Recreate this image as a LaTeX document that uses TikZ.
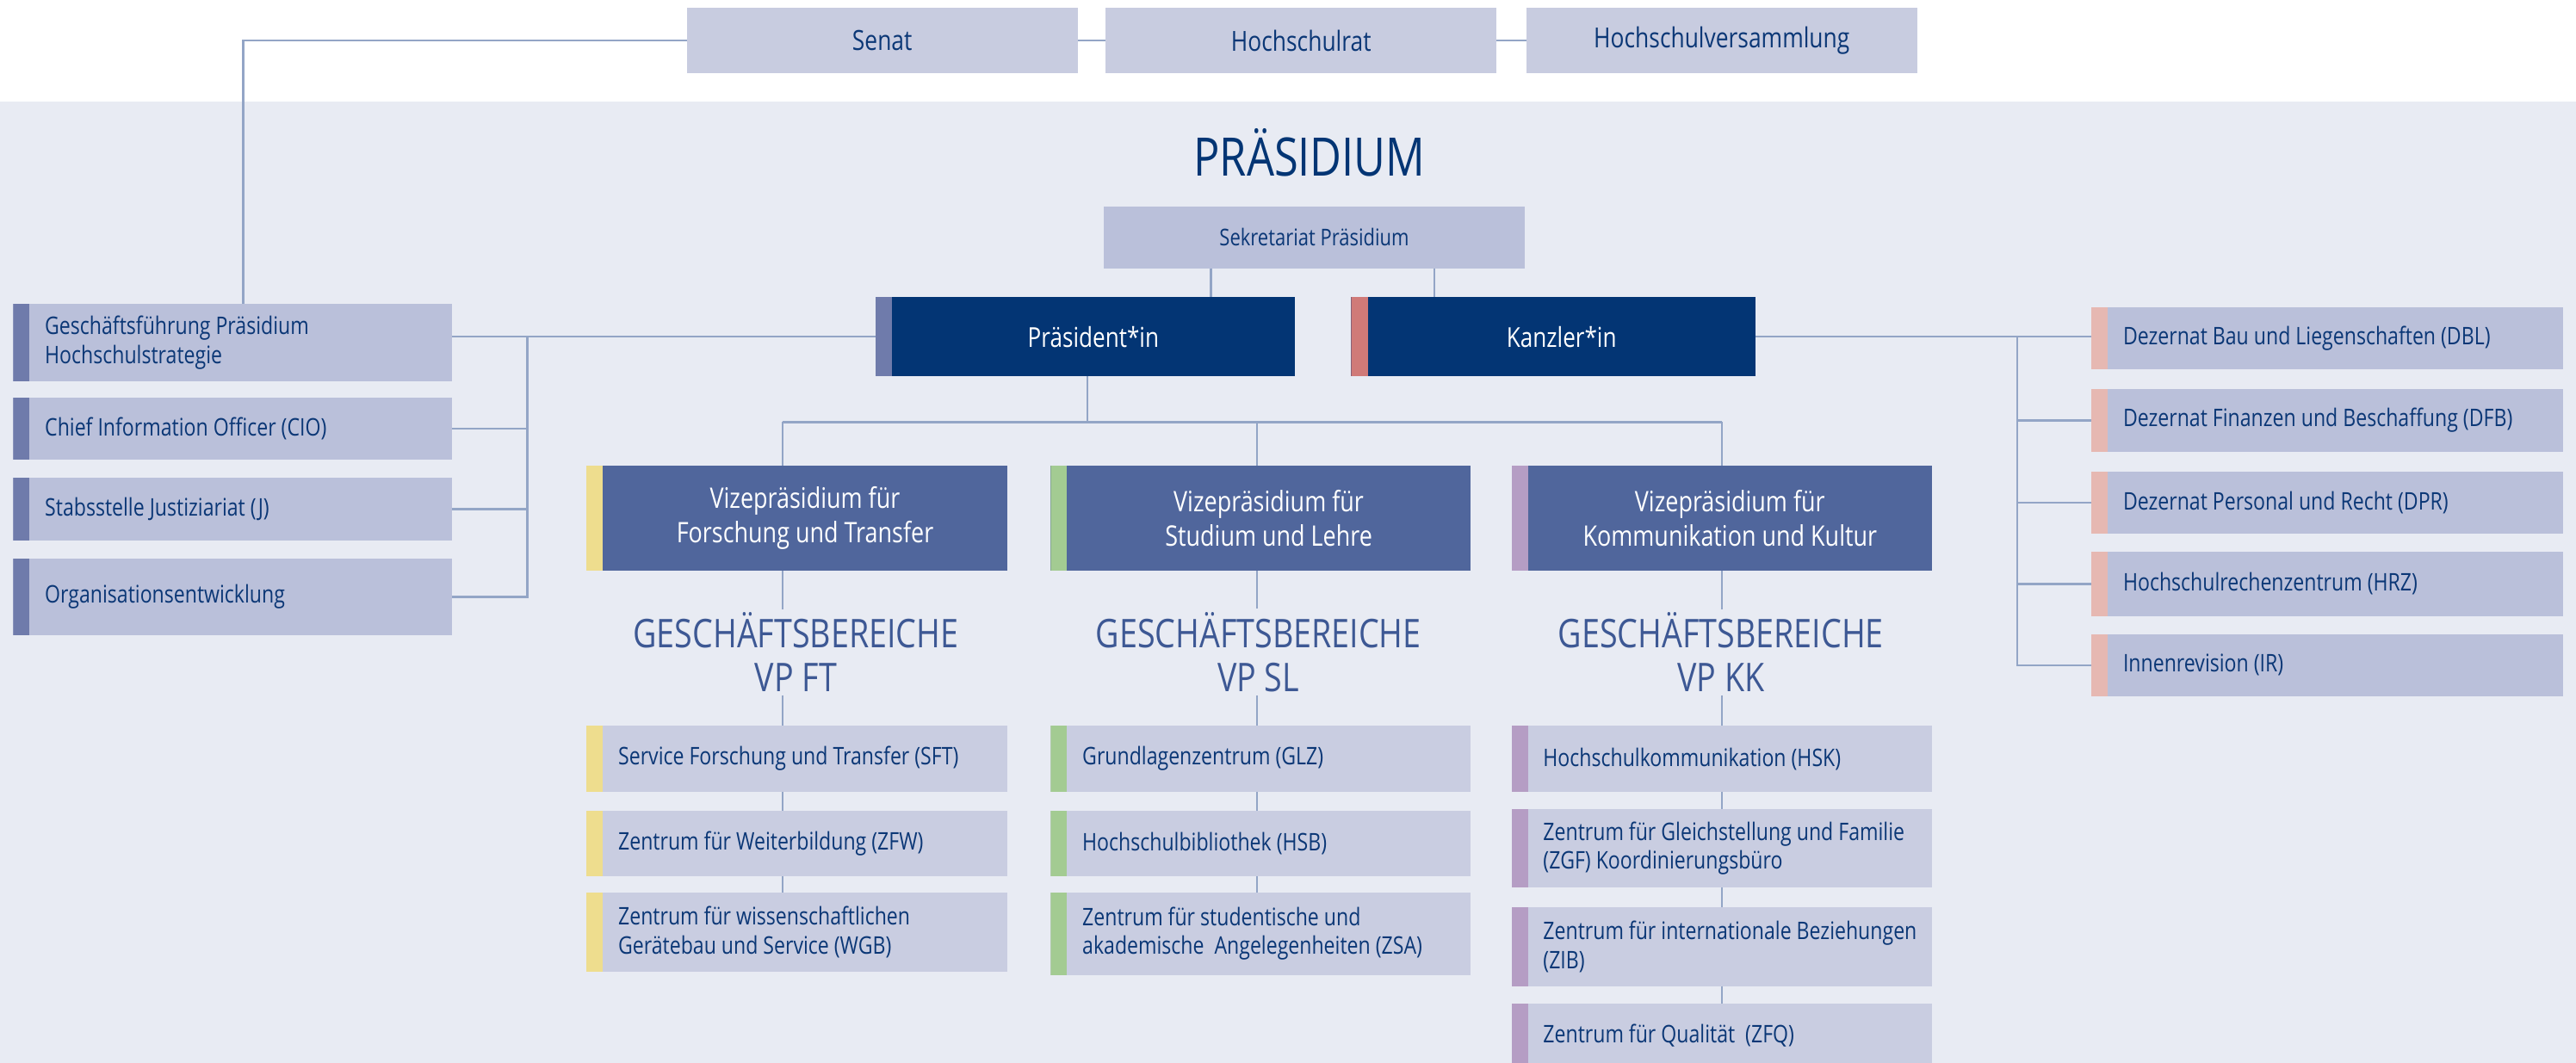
\documentclass[tikz,border=0pt]{standalone}
\usepackage{fontspec}
\setmainfont{Open Sans}[FakeStretch=0.82]
\usetikzlibrary{calc}
\definecolor{bandbg}{HTML}{E8EBF3}
\definecolor{topbox}{HTML}{C8CCE0}
\definecolor{midbox}{HTML}{BAC0DA}
\definecolor{subbox}{HTML}{C9CDE1}
\definecolor{navy}{HTML}{033574}
\definecolor{vpblue}{HTML}{50669C}
\definecolor{txt}{HTML}{0B3776}
\definecolor{gbtxt}{HTML}{3D5894}
\definecolor{conncol}{HTML}{93A5C6}
\definecolor{stpres}{HTML}{6F7BAB}
\definecolor{stkanz}{HTML}{D07A78}
\definecolor{stdez}{HTML}{E6B8B2}
\definecolor{styel}{HTML}{EEDD8E}
\definecolor{stgrn}{HTML}{A3CB92}
\definecolor{stpur}{HTML}{B59DC4}
\tikzset{
  box/.style={draw=none, inner sep=0pt, outer sep=0pt},
  striped/.style={path picture={\fill[#1] (path picture bounding box.north west) rectangle ([xshift=0.2cm]path picture bounding box.south west);}},
  lbl/.style={inner sep=0pt, text=txt, align=left, font=\fontsize{8.4}{10}\selectfont},
  ctext/.style={inner sep=0pt, text=txt, align=center},
  vptext/.style={inner sep=0pt, text=white, align=center, font=\fontsize{9.8}{12}\selectfont},
  gbtext/.style={inner sep=1pt, text=gbtxt, align=center, font=\fontsize{13.7}{15.2}\selectfont},
  conn/.style={draw=conncol, line width=0.7pt},
}
% name, x, y, w, h, fill, stripe, text
\newcommand\orgbox[8]{%
  \node[box, fill=#6, minimum width=#4*0.02cm, minimum height=#5*0.02cm, striped=#7] (#1) at ({#2+#4/2},{#3+#5/2}) {};
  \node[lbl, anchor=west] (#1t) at ([xshift=0.38cm]#1.west) {#8};
}
\newcommand\vpbox[7]{% name, x, y, w, h, stripe, text
  \node[box, fill=vpblue, minimum width=#4*0.02cm, minimum height=#5*0.02cm, striped=#6] (#1) at ({#2+#4/2},{#3+#5/2}) {};
  \node[vptext] (#1t) at ([xshift=0.1cm]#1.center) {#7};
}
\begin{document}
\begin{tikzpicture}[x=0.02cm, y=-0.02cm]
\useasboundingbox (0,0) rectangle (1568,647);
\clip (0,0) rectangle (1568,647);
\fill[white] (0,0) rectangle (1568,62);
\fill[bandbg] (0,62) rectangle (1568,647);

% top row
\node[box, fill=topbox, minimum width=238*0.02cm, minimum height=40*0.02cm, text=txt, font=\fontsize{9.6}{11}\selectfont] (senat) at (537,24.7) {Senat};
\node[box, fill=topbox, minimum width=238*0.02cm, minimum height=40*0.02cm, text=txt, font=\fontsize{9.6}{11}\selectfont] (hrat) at (792,24.7) {Hochschulrat};
\node[box, fill=topbox, minimum width=238*0.02cm, minimum height=40*0.02cm, text=txt, font=\fontsize{9.6}{11}\selectfont] (hsv) at (1048,24.7) {Hochschulversammlung};

% title
\node[inner sep=0pt, text=navy, font=\fontsize{18.4}{20}\selectfont] (title) at (797,93) {PRÄSIDIUM};

% Sekretariat
\node[box, fill=midbox, minimum width=256*0.02cm, minimum height=37.5*0.02cm, text=txt, font=\fontsize{8}{10}\selectfont] (sek) at (800,144.5) {Sekretariat Präsidium};

% President / Kanzler
\node[box, fill=navy, minimum width=255*0.02cm, minimum height=48*0.02cm, striped=stpres] (praes) at (660.5,205) {};
\node[inner sep=0pt, text=white, font=\fontsize{9.5}{11}\selectfont] (praest) at ([xshift=0.1cm]praes.center) {Präsident*in};
\node[box, fill=navy, minimum width=246*0.02cm, minimum height=48*0.02cm, striped=stkanz] (kanz) at (945.5,205) {};
\node[inner sep=0pt, text=white, font=\fontsize{9.5}{11}\selectfont] (kanzt) at ([xshift=0.1cm]kanz.center) {Kanzler*in};

% left column
\orgbox{gf}{8}{185}{267}{47}{midbox}{stpres}{Geschäftsführung Präsidium\\Hochschulstrategie}
\orgbox{cio}{8}{242}{267}{38}{midbox}{stpres}{Chief Information Officer (CIO)}
\orgbox{jus}{8}{291}{267}{38}{midbox}{stpres}{Stabsstelle Justiziariat (J)}
\orgbox{oe}{8}{340}{267}{47}{midbox}{stpres}{Organisationsentwicklung}

% right column
\orgbox{dbl}{1273}{187}{287}{38}{midbox}{stdez}{Dezernat Bau und Liegenschaften (DBL)}
\orgbox{dfb}{1273}{237}{287}{38}{midbox}{stdez}{Dezernat Finanzen und Beschaffung (DFB)}
\orgbox{dpr}{1273}{287}{287}{38}{midbox}{stdez}{Dezernat Personal und Recht (DPR)}
\orgbox{hrz}{1273}{336}{287}{39}{midbox}{stdez}{Hochschulrechenzentrum (HRZ)}
\orgbox{ir}{1273}{386}{287}{38}{midbox}{stdez}{Innenrevision (IR)}

% VP boxes
\vpbox{vpft}{357}{283.5}{256}{64}{styel}{Vizepräsidium für\\Forschung und Transfer}
\vpbox{vpsl}{639.5}{283.5}{255.5}{64}{stgrn}{Vizepräsidium für\\Studium und Lehre}
\vpbox{vpkk}{920}{283.5}{256}{64}{stpur}{Vizepräsidium für\\Kommunikation und Kultur}

% Geschaeftsbereiche headings
\node[gbtext] (gbft) at (484.5,397) {GESCHÄFTSBEREICHE\\VP FT};
\node[gbtext] (gbsl) at (766,397) {GESCHÄFTSBEREICHE\\VP SL};
\node[gbtext] (gbkk) at (1047.5,397) {GESCHÄFTSBEREICHE\\VP KK};

% sub boxes FT
\orgbox{sft}{357}{442}{256}{40}{subbox}{styel}{Service Forschung und Transfer (SFT)}
\orgbox{zfw}{357}{493.5}{256}{40}{subbox}{styel}{Zentrum für Weiterbildung (ZFW)}
\orgbox{wgb}{357}{543.5}{256}{48}{subbox}{styel}{Zentrum für wissenschaftlichen\\Gerätebau und Service (WGB)}
% sub boxes SL
\orgbox{glz}{639.5}{442}{255.5}{40}{subbox}{stgrn}{Grundlagenzentrum (GLZ)}
\orgbox{hsb}{639.5}{493.5}{255.5}{40}{subbox}{stgrn}{Hochschulbibliothek (HSB)}
\orgbox{zsa}{639.5}{543.5}{255.5}{50}{subbox}{stgrn}{Zentrum für studentische und\\akademische~ Angelegenheiten (ZSA)}
% sub boxes KK
\orgbox{hsk}{920}{442}{256}{40}{subbox}{stpur}{Hochschulkommunikation (HSK)}
\orgbox{zgf}{920}{492.5}{256}{48}{subbox}{stpur}{Zentrum für Gleichstellung und Familie\\(ZGF) Koordinierungsbüro}
\orgbox{zib}{920}{552.4}{256}{48}{subbox}{stpur}{Zentrum für internationale Beziehungen\\(ZIB)}
\orgbox{zfq}{920}{611.3}{256}{38}{subbox}{stpur}{Zentrum für Qualität~ (ZFQ)}

% helper coordinates
\coordinate (xa) at (148,0);
\coordinate (xb) at (321,0);
\coordinate (xc) at (737,0);
\coordinate (xd) at (873,0);
\coordinate (xe) at (1228,0);
\coordinate (xf) at (476.5,0);
\coordinate (xg) at (765,0);
\coordinate (xh) at (1048,0);
\coordinate (vpbus) at (662,257);

% connectors: top
\draw[conn] (senat.west) -| (xa |- gf.north);
\draw[conn] (senat.east) -- (hrat.west);
\draw[conn] (hrat.east) -- (hsv.west);
% Sekretariat
\draw[conn] (xc |- sek.south) -- (xc |- praes.north);
\draw[conn] (xd |- sek.south) -- (xd |- kanz.north);
% left staff
\draw[conn] (praes.west) -- (praes.west -| gf.east);
\draw[conn] (xb |- praes.west) -- (xb |- oe.east) -- (oe.east);
\draw[conn] (xb |- cio.east) -- (cio.east);
\draw[conn] (xb |- jus.east) -- (jus.east);
% right Dezernate
\draw[conn] (kanz.east) -- (kanz.east -| dbl.west);
\draw[conn] (xe |- kanz.east) -- (xe |- ir.west) -- (ir.west);
\draw[conn] (xe |- dfb.west) -- (dfb.west);
\draw[conn] (xe |- dpr.west) -- (dpr.west);
\draw[conn] (xe |- hrz.west) -- (hrz.west);
% VP bus
\draw[conn] (vpbus |- praes.south) -- (vpbus);
\draw[conn] (xf |- vpbus) -- (xh |- vpbus);
\draw[conn] (xf |- vpbus) -- (xf |- vpft.north);
\draw[conn] (xg |- vpbus) -- (xg |- vpsl.north);
\draw[conn] (xh |- vpbus) -- (xh |- vpkk.north);
% columns
\draw[conn] (xf |- vpft.south) -- (xf |- gbft.north);
\draw[conn] (xf |- gbft.south) -- (xf |- sft.north);
\draw[conn] (xf |- sft.south) -- (xf |- zfw.north);
\draw[conn] (xf |- zfw.south) -- (xf |- wgb.north);
\draw[conn] (xg |- vpsl.south) -- (xg |- gbsl.north);
\draw[conn] (xg |- gbsl.south) -- (xg |- glz.north);
\draw[conn] (xg |- glz.south) -- (xg |- hsb.north);
\draw[conn] (xg |- hsb.south) -- (xg |- zsa.north);
\draw[conn] (xh |- vpkk.south) -- (xh |- gbkk.north);
\draw[conn] (xh |- gbkk.south) -- (xh |- hsk.north);
\draw[conn] (xh |- hsk.south) -- (xh |- zgf.north);
\draw[conn] (xh |- zgf.south) -- (xh |- zib.north);
\draw[conn] (xh |- zib.south) -- (xh |- zfq.north);
\end{tikzpicture}
\end{document}
